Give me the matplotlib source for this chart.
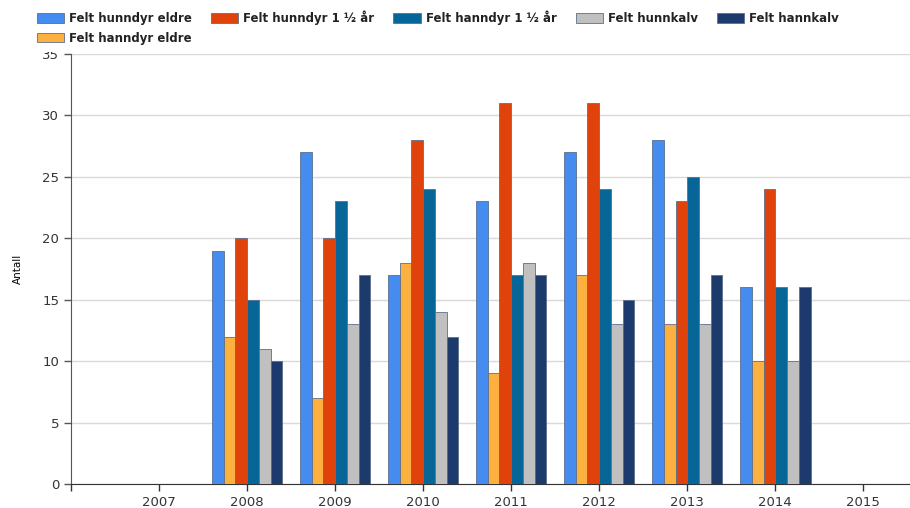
import matplotlib
matplotlib.use("Agg")
import matplotlib.pyplot as plt
import numpy as np

years = [2007, 2008, 2009, 2010, 2011, 2012, 2013, 2014, 2015]

# verdier pr. aar (2007 og 2015 uten data)
hunndyr_eldre = [0, 19, 27, 17, 23, 27, 28, 16, 0]
hanndyr_eldre = [0, 12, 7, 18, 9, 17, 13, 10, 0]
hunndyr_1_5 = [0, 20, 20, 28, 31, 31, 23, 24, 0]
hanndyr_1_5 = [0, 15, 23, 24, 17, 24, 25, 16, 0]
hunnkalv = [0, 11, 13, 14, 18, 13, 13, 10, 0]
hannkalv = [0, 10, 17, 12, 17, 15, 17, 16, 0]

series = [
    ("Felt hunndyr eldre", hunndyr_eldre, "#448cf0"),
    ("Felt hanndyr eldre", hanndyr_eldre, "#fbb040"),
    ("Felt hunndyr 1 \u00bd \u00e5r", hunndyr_1_5, "#e0420c"),
    ("Felt hanndyr 1 \u00bd \u00e5r", hanndyr_1_5, "#076697"),
    ("Felt hunnkalv", hunnkalv, "#c0c0c0"),
    ("Felt hannkalv", hannkalv, "#1c3a6b"),
]

fig = plt.figure(figsize=(9.1, 5.08), dpi=100)
ax = fig.add_axes([0.078, 0.047, 0.922, 0.847])

w = 0.8 / len(series)
x = np.array(years, dtype=float)
handles = []
for i, (name, vals, col) in enumerate(series):
    b = ax.bar(x + (i - 2.5) * w, vals, width=w, color=col,
               edgecolor="#5c6f8c", linewidth=0.6, label=name, zorder=3)
    handles.append(b)

ax.set_xlim(2006, 2015.53)
ax.set_ylim(0, 35)
ax.set_yticks(range(0, 36, 5))
ax.set_xticks([2006] + years)
ax.set_xticklabels([""] + [str(y) for y in years])
ax.yaxis.grid(True, color="#d9d9d9", linewidth=1, zorder=0)
ax.set_axisbelow(True)

for s in ["top", "right"]:
    ax.spines[s].set_visible(False)
ax.spines["left"].set_color("#555555")
ax.spines["bottom"].set_color("#333333")
ax.tick_params(axis="both", labelsize=9.5, colors="#333333", length=5, width=1)
ax.tick_params(axis="y", color="#555555")

ax.set_ylabel("Antall", fontsize=7.5, labelpad=14)

# hvit legendeboks dekker toppen av "35" som i originalen
leg = fig.legend(handles=handles, loc="upper left", bbox_to_anchor=(0.026, 1.005),
                 ncol=5, frameon=True, framealpha=1, facecolor="white",
                 edgecolor="none", handlelength=2.3, handleheight=0.85,
                 handletextpad=0.45, columnspacing=1.6, labelspacing=0.55,
                 borderpad=0.6, prop={"weight": "bold", "size": 8.5})
for t in leg.get_texts():
    t.set_color("#222222")

fig.savefig("out.png", dpi=100)
